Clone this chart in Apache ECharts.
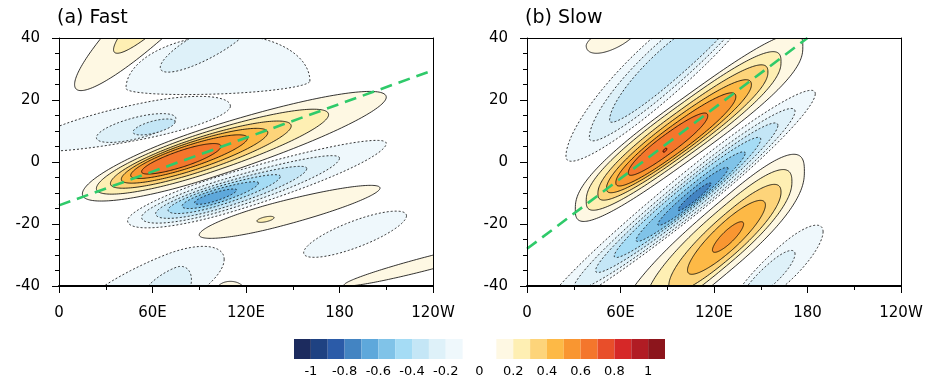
<!DOCTYPE html>
<html><head><meta charset="utf-8">
<script src="https://cdn.jsdelivr.net/npm/echarts@6/dist/echarts.min.js"></script>
<style>html,body{margin:0;padding:0;background:#fff}#c{width:932px;height:381px}</style>
</head><body><div id="c"></div>
<script>
// ---- axis ticks / labels ----
const lonTicks = [0, 60, 120, 180, 240];
const lonLabels = ['0', '60E', '120E', '180', '120W'];
const latTicks = [-40, -20, 0, 20, 40];
// ---- colour bar ----
const cbTicks = [-1, -0.8, -0.6, -0.4, -0.2, 0, 0.2, 0.4, 0.6, 0.8, 1];
const cbEdges = [-1.1, -1.0, -0.9, -0.8, -0.7, -0.6, -0.5, -0.4, -0.3, -0.2, -0.1, 0, 0.1, 0.2, 0.3, 0.4, 0.5, 0.6, 0.7, 0.8, 0.9, 1.0, 1.1];
const cbColors = ['#1c2b5e', '#1f4282', '#2b5ba8', '#4384c2', '#5ea8db', '#80c3e8', '#a5dcf5', '#c4e6f6', '#def1f9', '#eff8fc',
  null, null,
  '#fef8e3', '#feefb3', '#fdd47a', '#fdb946', '#f99631', '#f4762c', '#e84e2a', '#d62828', '#b11c24', '#8c151c'];
// ---- contours:
// [level, lonC, latC, halfLenLeft, halfLenRight, halfThickTop, halfThickBottom, tilt, squareness] ----
const fastContours = [
  [0.1, 70, 52, 60, 60, 10.5, 10.5, 0.45, 2],
  [0.2, 70, 52, 35, 35, 6.2, 6.2, 0.45, 2],
  [-0.1, 105, 25, 62, 56, 16, 3, 0.02, 2],
  [-0.2, 95, 38, 30, 30, 5, 5, 0.25, 2],
  [-0.1, 55, 12.5, 75, 55, 6.7, 5, 0.1, 2],
  [-0.2, 50, 11, 26, 25, 3.5, 3.5, 0.12, 2],
  [-0.3, 61, 11.3, 13.5, 13.5, 2, 2, 0.12, 2],
  [0.1, 95, 2.5, 80, 115, 8.5, 8, 0.16, 2],
  [0.2, 92, 2.3, 68, 81, 7, 6.5, 0.16, 2],
  [0.3, 89, 2.0, 56, 60, 5.8, 5.4, 0.16, 2],
  [0.4, 86, 1.8, 46, 48, 4.8, 4.5, 0.16, 2],
  [0.5, 83, 1.6, 37, 38, 3.8, 3.6, 0.16, 2],
  [0.6, 80, 1.2, 27, 24, 2.8, 2.7, 0.16, 2],
  [-0.1, 110, -9, 66, 100, 5.5, 7.2, 0.15, 2],
  [-0.2, 105, -10, 52, 75, 4.3, 5.8, 0.15, 2],
  [-0.3, 103, -10.5, 41, 56, 3.5, 4.6, 0.15, 2],
  [-0.4, 101, -10.8, 31, 41, 2.7, 3.5, 0.15, 2],
  [-0.5, 100, -11, 21, 28, 2.0, 2.5, 0.15, 2],
  [-0.6, 99, -11.3, 12, 15, 1.3, 1.5, 0.15, 2],
  [0.1, 140, -17, 50, 66, 4, 4, 0.13, 2],
  [0.2, 132.5, -18.5, 5.5, 5.5, 0.8, 0.8, 0.1, 2],
  [-0.1, 190, -23.3, 33, 33, 4.5, 4.5, 0.18, 2],
  [0.1, 238, -32.5, 55, 30, 2.2, 2.2, 0.13, 2],
  [0.1, 110, -41.5, 9, 9, 3, 3, 0, 2],
  [-0.1, 68, -39, 60, 38, 9, 9, 0.2, 2],
  [-0.2, 75, -40, 22, 10, 6, 6, 0.2, 2]
];
const slowContours = [
  [0.1, 58, 42.5, 20, 18, 3, 5.5, 0.25, 2],
  [-0.1, 85, 27, 60, 65, 15, 9, 0.42, 2],
  [-0.2, 88, 28, 48, 55, 12, 6.5, 0.42, 2],
  [-0.3, 90, 29, 37, 45, 9, 4.5, 0.42, 2],
  [0.1, 104, 11, 73, 73, 11, 10.5, 0.36, 2.8],
  [0.2, 101, 10, 63, 62, 9.5, 8.8, 0.36, 2.6],
  [0.3, 99, 9, 53.5, 55.6, 8, 7.3, 0.36, 2.4],
  [0.4, 97, 8, 46, 47, 6.7, 6, 0.36, 2.2],
  [0.5, 95, 7, 38, 39, 5.4, 4.8, 0.36, 2.2],
  [0.6, 90, 5.5, 25, 26, 3.8, 3.4, 0.36, 2.2],
  [0.7, 88.5, 3.8, 1.2, 1.2, 0.5, 0.5, 0.36, 2],
  [-0.1, 110, -8, 100, 75, 8.3, 8.3, 0.4, 2],
  [-0.2, 110, -8.5, 80, 62, 7, 7, 0.4, 2],
  [-0.3, 109, -9, 65, 52, 5.8, 5.8, 0.4, 2],
  [-0.4, 108, -9.5, 52, 42, 4.7, 4.7, 0.4, 2],
  [-0.5, 108, -10, 38, 32, 3.6, 3.6, 0.4, 2],
  [-0.6, 108, -10.5, 24, 21, 2.5, 2.5, 0.4, 2],
  [-0.7, 108, -11, 11, 10, 1.4, 1.4, 0.4, 2],
  [0.1, 128, -24, 70, 50, 13, 12, 0.42, 2.6],
  [0.2, 128, -24, 52, 42, 10.5, 9.5, 0.42, 2.4],
  [0.3, 129, -24, 38, 34, 8, 7.5, 0.42, 2.2],
  [0.4, 129, -24, 26, 24, 5.8, 5.5, 0.42, 2],
  [0.5, 129, -24.2, 10, 10, 2.6, 2.6, 0.42, 2],
  [-0.1, 165, -33, 35, 25, 7, 7, 0.42, 2],
  [-0.2, 157, -36, 20, 15, 4, 4, 0.42, 2]
];
// green dashed reference lines (lon, lat)
const fastGuide = [[0, -14], [240, 29.6]];
const slowGuide = [[0, -28], [180, 40]];

const FONT = 'DejaVu Sans';
function levelColor(L) {
  const lo = L > 0 ? L : L - 0.1;
  const i = Math.round((lo - cbEdges[0]) / 0.1);
  return cbColors[i] || '#fff';
}
function spow(x, e) { return Math.sign(x) * Math.pow(Math.abs(x), e); }
function contourRender(params, api) {
  const L = api.value(0), cx = api.value(1), cy = api.value(2);
  const aL = api.value(3), aR = api.value(4), bT = api.value(5), bB = api.value(6), s = api.value(7);
  const p = api.value(8) || 2;
  const e = 2 / p;
  const pts = [];
  const N = 200;
  for (let k = 0; k < N; k++) {
    const t = 2 * Math.PI * k / N;
    const c = spow(Math.cos(t), e), sn = spow(Math.sin(t), e);
    const u = c * (c < 0 ? aL : aR);
    const v = sn * (sn > 0 ? bT : bB);
    pts.push(api.coord([cx + u, cy + s * u + v]));
  }
  const cs = params.coordSys;
  return {
    type: 'polygon',
    shape: { points: pts },
    style: { fill: levelColor(L), stroke: '#000', lineWidth: 0.8, lineDash: L < 0 ? [2, 2] : null },
    clipPath: { type: 'rect', shape: { x: cs.x, y: cs.y, width: cs.width, height: cs.height } }
  };
}
function cbRender(params, api) {
  const lo = api.value(0), hi = api.value(1), ci = api.value(2);
  const p0 = api.coord([lo, 1]), p1 = api.coord([hi, 0]);
  return { type: 'rect', shape: { x: p0[0], y: p0[1], width: p1[0] - p0[0], height: p1[1] - p0[1] }, style: { fill: cbColors[ci] } };
}
const cbData = [];
for (let i = 0; i < cbColors.length; i++) if (cbColors[i]) cbData.push([cbEdges[i], cbEdges[i + 1], i]);

const lab = { color: '#000', fontFamily: FONT, fontSize: 15 };
function panelAxes(g) {
  return {
    x: [
      { gridIndex: g, type: 'value', min: 0, max: 240, interval: 60, z: 5,
        axisLine: { show: true, onZero: false, lineStyle: { color: '#000', width: 2 } },
        axisTick: { show: true, length: 7, lineStyle: { color: '#000', width: 1 } },
        minorTick: { show: true, splitNumber: 2, length: 4, lineStyle: { color: '#000', width: 1 } },
        splitLine: { show: false }, minorSplitLine: { show: false },
        axisLabel: Object.assign({ margin: 20, formatter: v => lonLabels[lonTicks.indexOf(v)] }, lab) },
      { gridIndex: g, type: 'value', min: 0, max: 240, position: 'top', z: 5,
        axisLine: { show: true, onZero: false, lineStyle: { color: '#000', width: 1 } },
        axisTick: { show: false }, axisLabel: { show: false }, splitLine: { show: false } }
    ],
    y: [
      { gridIndex: g, type: 'value', min: -40, max: 40, interval: 20, z: 5,
        axisLine: { show: true, onZero: false, lineStyle: { color: '#000', width: 1 } },
        axisTick: { show: true, length: 7, lineStyle: { color: '#000', width: 1 } },
        minorTick: { show: true, splitNumber: 4, length: 4, lineStyle: { color: '#000', width: 1 } },
        splitLine: { show: false }, minorSplitLine: { show: false },
        axisLabel: Object.assign({ margin: 19, formatter: v => latTicks.indexOf(v) >= 0 ? String(v) : '' }, lab) },
      { gridIndex: g, type: 'value', min: -40, max: 40, position: 'right', z: 5,
        axisLine: { show: true, onZero: false, lineStyle: { color: '#000', width: 1 } },
        axisTick: { show: false }, axisLabel: { show: false }, splitLine: { show: false } }
    ]
  };
}
const A = panelAxes(0), B = panelAxes(1);
const xAxes = [A.x[0], A.x[1], B.x[0], B.x[1],
  { gridIndex: 2, type: 'value', min: -1.1, max: 1.1, axisLine: { show: false }, axisTick: { show: false }, splitLine: { show: false },
    axisLabel: { customValues: cbTicks, formatter: v => String(v), margin: 6, color: '#000', fontFamily: FONT, fontSize: 13 } }];
const yAxes = [A.y[0], A.y[1], B.y[0], B.y[1], { gridIndex: 2, type: 'value', min: 0, max: 1, show: false }];

const guideStyle = { color: '#2fca6a', width: 2.6, type: [12, 7] };
const titleStyle = { fontFamily: FONT, fontSize: 19, fontWeight: 'normal', color: '#000' };
const option = {
  backgroundColor: '#fff',
  animation: false,
  title: [
    { text: '(a) Fast', left: 57, top: 9, padding: 0, textStyle: titleStyle },
    { text: '(b) Slow', left: 525, top: 9, padding: 0, textStyle: titleStyle }
  ],
  grid: [
    { left: 59, top: 38, width: 374, height: 248 },
    { left: 527, top: 38, width: 374, height: 248 },
    { left: 294, top: 339, width: 371, height: 20 }
  ],
  xAxis: xAxes,
  yAxis: yAxes,
  series: [
    { type: 'custom', xAxisIndex: 0, yAxisIndex: 0, clip: true, renderItem: contourRender, data: fastContours, z: 2 },
    { type: 'custom', xAxisIndex: 2, yAxisIndex: 2, clip: true, renderItem: contourRender, data: slowContours, z: 2 },
    { type: 'line', xAxisIndex: 0, yAxisIndex: 0, data: fastGuide, symbol: 'none', lineStyle: guideStyle, z: 3, silent: true },
    { type: 'line', xAxisIndex: 2, yAxisIndex: 2, data: slowGuide, symbol: 'none', lineStyle: guideStyle, z: 3, silent: true },
    { type: 'custom', xAxisIndex: 4, yAxisIndex: 4, renderItem: cbRender, data: cbData }
  ]
};
const chart = echarts.init(document.getElementById('c'), null, { renderer: 'canvas' });
chart.setOption(option);
</script></body></html>
